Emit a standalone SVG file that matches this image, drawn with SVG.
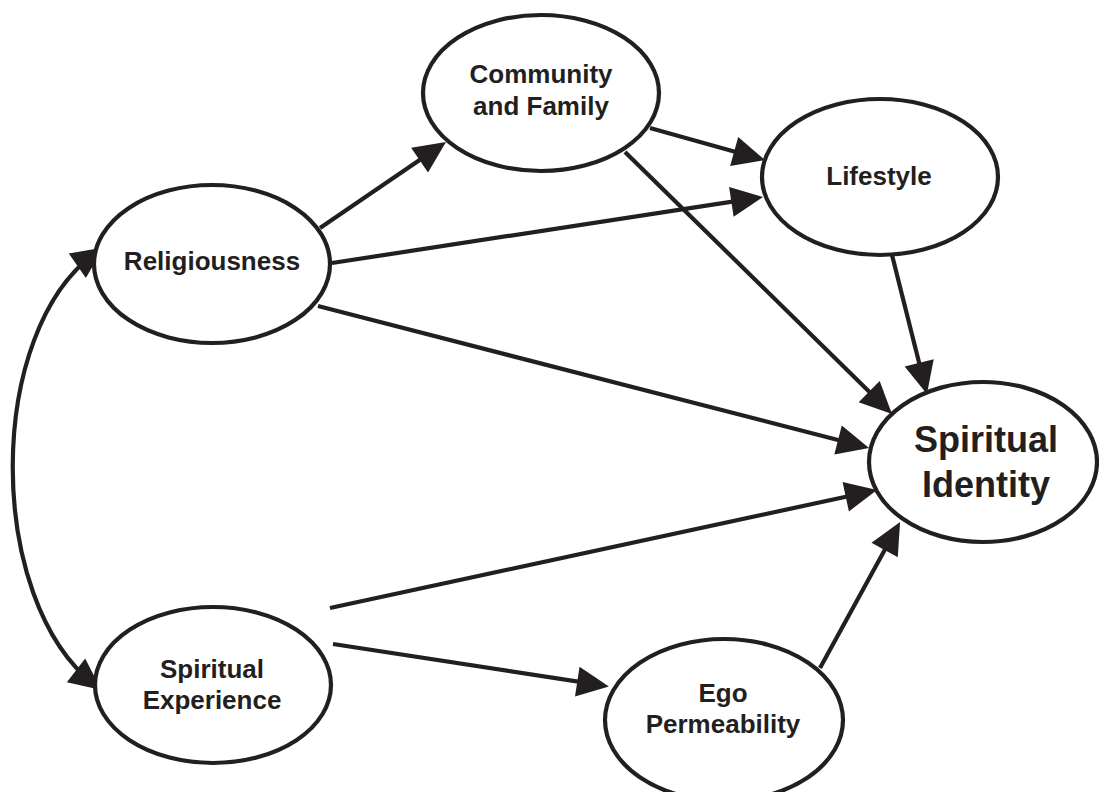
<svg xmlns="http://www.w3.org/2000/svg" width="1099" height="792" viewBox="0 0 1099 792">
<style>
.node ellipse{fill:#fff;stroke:#231f20;stroke-width:4.2}
.node text{font-family:"Liberation Sans",Arial,sans-serif;font-weight:bold;font-size:26px;fill:#231f20;text-anchor:middle}
.node text.big{font-size:36px}
.conn path,.conn line{fill:none;stroke:#231f20;stroke-width:4.2}
</style>
<defs>
<marker id="arr" markerUnits="userSpaceOnUse" markerWidth="34" markerHeight="32" viewBox="0 0 34 32" refX="25" refY="16" orient="auto-start-reverse">
<path d="M1,1 L33,16 L1,31 z" fill="#231f20"/>
</marker>
</defs>
<rect width="1099" height="792" fill="#fff"/>
<g id="connectors" class="conn">
<path d="M97,252 C-15,330 -15,600 95,685" marker-start="url(#arr)" marker-end="url(#arr)"/>
<line x1="320" y1="228" x2="439.4" y2="146.5" marker-end="url(#arr)"/>
<line x1="332" y1="263" x2="755.1" y2="198.2" marker-end="url(#arr)"/>
<line x1="650" y1="128" x2="757.3" y2="157.9" marker-end="url(#arr)"/>
<line x1="625" y1="152" x2="886.3" y2="408.4" marker-end="url(#arr)"/>
<line x1="892" y1="255" x2="925.0" y2="386.2" marker-end="url(#arr)"/>
<line x1="318" y1="306" x2="861.3" y2="446.0" marker-end="url(#arr)"/>
<line x1="330" y1="608" x2="869.2" y2="491.7" marker-end="url(#arr)"/>
<line x1="333" y1="644" x2="601" y2="685.2" marker-end="url(#arr)"/>
<line x1="820" y1="668" x2="896.2" y2="529.0" marker-end="url(#arr)"/>
</g>
<g id="community" class="node">
<ellipse cx="541" cy="93" rx="118" ry="78"/>
<text x="541" y="83">Community</text>
<text x="541" y="115">and Family</text>
</g>
<g id="lifestyle" class="node">
<ellipse cx="880" cy="177" rx="118" ry="78"/>
<text x="879" y="185">Lifestyle</text>
</g>
<g id="religiousness" class="node">
<ellipse cx="212" cy="264" rx="118" ry="79"/>
<text x="212" y="270">Religiousness</text>
</g>
<g id="spiritual-identity" class="node">
<ellipse cx="983" cy="462" rx="114" ry="80"/>
<text class="big" x="986" y="452">Spiritual</text>
<text class="big" x="986" y="497">Identity</text>
</g>
<g id="spiritual-experience" class="node">
<ellipse cx="213" cy="685" rx="118" ry="78"/>
<text x="212" y="678">Spiritual</text>
<text x="212" y="709">Experience</text>
</g>
<g id="ego-permeability" class="node">
<ellipse cx="724" cy="720" rx="119" ry="81"/>
<text x="723" y="702">Ego</text>
<text x="723" y="733">Permeability</text>
</g>
</svg>
